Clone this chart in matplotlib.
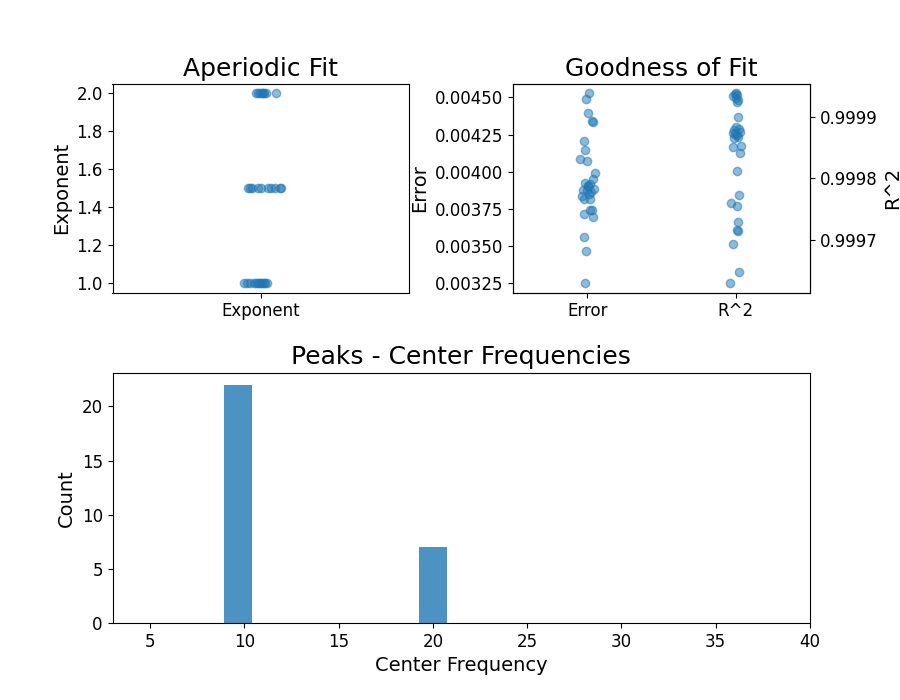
import matplotlib.pyplot as plt
import matplotlib.gridspec as gridspec
import numpy as np

# aperiodic exponents with their x jitter
exponents = [2.0]*8 + [1.5]*10 + [1.0]*12
exp_jitter = [-0.017, -0.010, -0.004, 0.003, 0.008, 0.012, 0.016, 0.051,
              -0.044, -0.037, -0.030, -0.010, 0.000, 0.024, 0.034, 0.047, 0.064, 0.068,
              -0.057, -0.047, -0.037, -0.024, -0.017, -0.010, -0.007, 0.000, 0.003, 0.010, 0.013, 0.020]

# fit error
errors = [0.004527, 0.004491, 0.004397, 0.004341, 0.004334, 0.004209, 0.004144, 0.004088,
          0.004070, 0.003991, 0.003954, 0.003924, 0.003920, 0.003902, 0.003886, 0.003875,
          0.003853, 0.003835, 0.003819, 0.003819, 0.003745, 0.003741, 0.003714, 0.003696,
          0.003561, 0.003465, 0.003252, 0.003880, 0.003905, 0.003865]
err_jitter = [0.009, -0.009, 0.002, 0.029, 0.036, -0.025, -0.013, -0.053,
              -0.002, 0.049, 0.036, -0.013, 0.020, 0.007, 0.043, -0.002,
              0.009, -0.036, -0.025, 0.020, 0.031, 0.016, -0.020, 0.036,
              -0.020, -0.007, -0.013, -0.027, 0.007, 0.027]

# r squared
r_squared = [0.9999385, 0.9999358, 0.9999341, 0.9999304, 0.9999249, 0.9999374, 0.9999285,
             0.9999005, 0.9998842, 0.9998789, 0.9998761, 0.9998735, 0.9998707, 0.9998680,
             0.9998654, 0.9998805, 0.9998724, 0.9998528, 0.9998517, 0.9998420, 0.9998127,
             0.9997732, 0.9997607, 0.9997553, 0.9997298, 0.9997163, 0.9997151, 0.9996935,
             0.9996480, 0.9996296]
r2_jitter = [0.000, 0.011, -0.018, -0.002, 0.008, -0.008, 0.015,
             0.016, -0.002, -0.011, 0.027, -0.018, 0.005, 0.014,
             -0.015, 0.020, -0.008, 0.034, -0.018, 0.030, 0.011,
             0.022, -0.034, 0.009, 0.016, 0.005, 0.013, -0.018,
             0.022, -0.040]

# peak center frequencies
center_freqs = [9.2, 9.4, 9.5, 9.6, 9.7, 9.8, 9.8, 9.9, 9.9, 10.0, 10.0,
                10.0, 10.0, 10.1, 10.1, 10.1, 10.2, 10.2, 10.2, 10.3, 10.3, 10.3,
                19.6, 19.8, 19.9, 20.0, 20.1, 20.2, 20.4]
freq_range = (3, 40)

fig = plt.figure(figsize=(9, 7), dpi=100)
gs = gridspec.GridSpec(2, 2, wspace=0.35, hspace=0.35, height_ratios=[5, 6])

ax0 = plt.subplot(gs[0, 0])
ax0.scatter(np.array(exp_jitter), exponents, s=36, alpha=0.5)
ax0.set_xlim(-0.5, 0.5)
ax0.set_xticks([0])
ax0.set_xticklabels(['Exponent'])
ax0.set_ylabel('Exponent', fontsize=14)
ax0.set_title('Aperiodic Fit', fontsize=18)
ax0.tick_params(labelsize=12)

ax1 = plt.subplot(gs[0, 1])
ax1.scatter(np.array(err_jitter), errors, s=36, alpha=0.5)
ax1.set_ylabel('Error', fontsize=14)
ax1.tick_params(labelsize=12)
ax2 = ax1.twinx()
ax2.scatter(1 + np.array(r2_jitter), r_squared, s=36, alpha=0.5)
ax2.set_ylabel('R^2', fontsize=14)
ax2.tick_params(labelsize=12)
ax2.ticklabel_format(useOffset=False)
ax1.set_xlim(-0.5, 1.5)
ax1.set_xticks([0, 1])
ax1.set_xticklabels(['Error', 'R^2'])
ax1.set_title('Goodness of Fit', fontsize=18)

ax3 = plt.subplot(gs[1, :])
ax3.hist(center_freqs, 25, range=freq_range, alpha=0.8)
ax3.set_xlim(freq_range)
ax3.set_xlabel('Center Frequency', fontsize=14)
ax3.set_ylabel('Count', fontsize=14)
ax3.set_title('Peaks - Center Frequencies', fontsize=18)
ax3.tick_params(labelsize=12)

plt.savefig('out.png')
